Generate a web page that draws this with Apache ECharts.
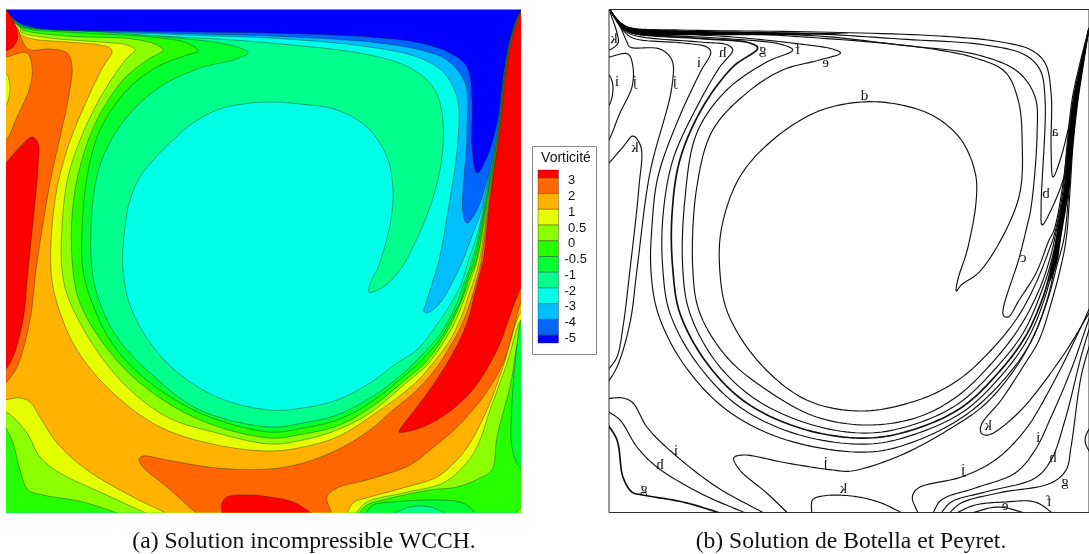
<!DOCTYPE html>
<html><head><meta charset="utf-8">
<script src="https://cdn.jsdelivr.net/npm/echarts@6/dist/echarts.min.js"></script>
<style>html,body{margin:0;padding:0;background:#fff}#c{width:1089px;height:554px}</style>
</head><body><div id="c"></div>
<script>
// ---- legend ----
const legendTicks = ['3','2','1','0.5','0','-0.5','-1','-2','-3','-4','-5'];
const legendColors = ['#ff0000','#ff6600','#ffb300','#e6ff00','#8cff00','#26ff00','#00ff33','#00ff8c','#00ffe6','#00bfff','#0066ff','#0000ff'];
const legendEdges = [-1,0,2,4,6,8,10,12,14,16,18,20,21];
const captions = ['(a) Solution incompressible WCCH.','(b) Solution de Botella et Peyret.'];

// ---- panel (a): iso-vorticity contours ----
const fullBox = [[526,9],[526,518],[1,518],[1,5]];
const baseBox = [[1,5],[526,5],[526,518],[1,518]];
const sM5 = [[6,10],[12,17],[20,23],[33,27],[50,29.5],[133,31],[200,32],[270,33],[370,37],[420,43],[450,53],[467,67],[472,100],[472,147],[477,173],[487,157],[497,123],[503,77],[509,43],[516,20],[522,8]];
const sM4 = [[6,10],[12,17.5],[20,24],[33,28],[50,30],[133,32],[200,34],[270,36],[370,42],[420,50],[447,60],[465,83],[467,133],[463,213],[467,223],[477,210],[487,180],[497,137],[503.3,77],[509.2,43],[516.2,20],[522,8]];
const sM3 = [[6,10],[12,18],[20,24.5],[33,28.5],[50,30.5],[133,33],[200,35.5],[270,38],[370,47],[420,58],[443,72],[457,97],[458,140],[447,217],[439,260],[427,300],[424,311],[427,313],[440,303],[452,283],[463,260],[472,236],[480,215],[484,200],[498.3,125],[503.6,77],[509.4,43],[516.4,20],[522,8]];
const sM2 = [[6,10],[12,18.5],[20,25],[30,28],[50,31],[133,35],[200,38],[270,43],[370,55],[410,68],[433,87],[442,113],[442,157],[430,207],[410,253],[400,270],[383,287],[369,292],[373,277],[377,270],[390,225],[393,190],[387,157],[367,127],[337,110],[300,104],[270,102],[243,104],[217,110],[193,123],[173,140],[155,158],[140,177],[130,200],[125,227],[123,270],[133,313],[167,363],[217,397],[270,410],[303,408],[337,400],[370,383],[397,363],[417,350],[433,330],[447,310],[460,287],[468,262],[478,232],[485,200],[498.6,125],[503.9,77],[509.6,43],[516.6,20],[522,8]];
const sM1 = [[6,10],[12,19],[20,26],[28,28],[50,30],[100,32],[167,37],[220,43],[240,48],[248,53],[233,60],[200,68],[160,87],[127,117],[103,157],[93,200],[92,270],[100,303],[117,337],[150,373],[200,410],[270,427],[303,423],[337,415],[370,398],[393,382],[410,367],[433,343],[443,330],[457,303],[465,280],[472,262],[486,200],[499,125],[504.2,77],[509.8,43],[516.8,20],[522,8]];
const sM05 = [[6,10],[12,19.5],[20,26.5],[27,29],[83,33],[150,37],[187,43],[198,51],[187,55],[157,67],[127,90],[100,130],[87,177],[82,233],[83,270],[90,297],[110,340],[143,377],[200,413],[270,432],[303,428],[337,420],[370,403],[410,371],[420,362],[438,342],[450,322],[462,297],[468,277],[474,262],[486.7,200],[499.3,125],[504.4,77],[510,43],[517,20],[522,8]];
const s0Top = [[6,10],[12,20],[20,27],[23,30],[67,36],[133,39],[157,45],[163,50],[147,60],[123,80],[97,120],[80,167],[72,217],[73,270],[80,303],[103,343],[140,383],[200,420],[270,438],[303,434],[337,426],[370,408],[410,376],[423,365],[440,343],[453,320],[463,297],[470,277],[476,262],[487.3,200],[499.5,125],[504.6,77],[510.2,43],[517.2,20],[522,8]];
const s0Right = [[526,331],[521,333],[510,387],[497,437],[492,470],[480,478],[457,487],[430,490],[383,500],[367,505],[358,514]];
const s0Left = [[120,514],[83,502],[43,495],[28,490],[20,470],[13,443],[6,428],[1,420]];
const s05Top = [[6,10],[12,20.5],[20,28],[21,32],[50,38],[100,42],[127,45],[135,50],[127,58],[103,93],[83,133],[68,177],[62,227],[62,270],[68,297],[90,340],[123,383],[167,417],[217,433],[270,444],[303,440],[337,430],[370,413],[407,382],[427,365],[443,343],[455,322],[465,297],[472,277],[477,262],[488,200],[499.7,125],[504.8,77],[510.4,43],[517.4,20],[522,8]];
const s05Right = [[526,318],[521,320],[507,363],[490,410],[477,447],[463,467],[443,483],[403,493],[367,502],[355,514]];
const s05Left = [[148,514],[100,492],[60,473],[40,457],[27,433],[13,417],[6,412],[1,410]];
const s1Top = [[6,10],[12,21],[18,29],[20,34],[33,39],[67,42],[100,45],[110,48],[112,52],[103,67],[87,100],[68,147],[55,200],[51,270],[57,303],[77,350],[113,393],[160,427],[217,445],[270,451],[303,447],[337,437],[370,417],[413,385],[433,363],[450,340],[462,315],[468,297],[475,277],[479,262],[488.7,200],[500,125],[505,77],[510.6,43],[517.6,20],[522,8]];
const s1Right = [[526,310],[521,312],[503,367],[487,410],[470,443],[457,460],[437,477],[403,488],[370,497],[353,503],[347,514]];
const s1Left = [[168,514],[133,497],[87,470],[57,443],[40,417],[30,402],[20,398],[6,400],[1,402]];
const yellowPocket = [[1,72],[6,73],[10,87],[6,105],[1,106]];
const s2Upper = [[1,5],[6,10],[12,21],[18,30],[28,49],[50,49],[67,53],[72,67],[68,100],[50,183],[36,270],[30,320],[17,367],[6,383],[1,389]];
const s2UpperHole = [[1,140],[6,140],[17,117],[30,87],[32,67],[27,53],[6,57],[1,57]];
const s2Lower = [[522,8],[517.8,20],[510.8,43],[505.2,77],[500.3,125],[489.3,200],[481,262],[478,275],[472,297],[463,322],[452,343],[437,367],[417,390],[393,410],[370,430],[337,450],[303,463],[270,469],[217,468],[167,460],[143,456],[139,459],[143,467],[167,487],[197,514]];
const s2LowerEnd = [[332,514],[327,497],[337,488],[370,479],[410,465],[430,450],[457,427],[483,397],[503,363],[521,302],[526,292]];
const redWall = [[522,8],[518,20],[511,43],[505.5,77],[500.6,125],[490,200],[483,262],[480,273],[475,293],[467,323],[453,353],[433,385],[417,407],[403,425],[399,432],[410,431],[437,420],[470,393],[497,350],[513,307],[521,287],[526,277]];
const redTop = [[1,5],[6,10],[10,15],[17,30],[17,40],[13,47],[6,51],[1,52]];
const redLeft = [[1,168],[6,163],[20,147],[32,137],[38,143],[38,167],[28,270],[23,320],[13,357],[6,369],[1,375]];
const redBottom = [[222,514],[222,503],[227,497],[250,495],[270,497],[293,502],[313,514]];
const pocketGreen = [[365,514],[373,505],[393,502],[437,500],[463,503],[477,514]];
const pocketSpring = [[392,514],[410,507],[430,507],[448,514]];
const wallGreen = [[526,467],[520,467],[512,447],[512,403],[518,337],[521,320],[526,312]];
const cornerLime = [[515,514],[521,507],[526,503]];

const leftRegions = [
  {c:'#0000ff', runs:[baseBox]},
  {c:'#0066ff', runs:[sM5, fullBox]},
  {c:'#00bfff', runs:[sM4, fullBox]},
  {c:'#00ffe6', runs:[sM3, fullBox]},
  {c:'#00ff8c', runs:[sM2, fullBox]},
  {c:'#00ff33', runs:[sM1, fullBox]},
  {c:'#26ff00', runs:[sM05, fullBox]},
  {c:'#8cff00', runs:[s0Top, s0Right, s0Left, [[1,5]]]},
  {c:'#e6ff00', runs:[s05Top, s05Right, s05Left, [[1,5]]]},
  {c:'#ffb300', runs:[s1Top, s1Right, s1Left, [[1,5]]]},
  {c:'#e6ff00', runs:[yellowPocket]},
  {c:'#ff6600', runs:[s2Upper, s2UpperHole]},
  {c:'#ff6600', runs:[s2Lower, s2LowerEnd]},
  {c:'#ff0000', runs:[redWall]},
  {c:'#ff0000', runs:[redTop]},
  {c:'#ff0000', runs:[redLeft]},
  {c:'#ff0000', runs:[redBottom]},
  {c:'#00ff33', runs:[pocketGreen]},
  {c:'#00ff8c', runs:[pocketSpring]},
  {c:'#00ff33', runs:[wallGreen]},
  {c:'#8cff00', runs:[cornerLime, [[526,518]]]}
];
const straightRuns = [fullBox, baseBox];

// ---- panel (b): hand-drawn contour lines ----
const lineA = [[610,10],[615,17],[622,24],[632,28],[680,30],[819,32],[940,36],[1002,42],[1032,50],[1046,63],[1052,93],[1052,150],[1054,177],[1062,157],[1069,130],[1076,100],[1090,28]];
const lineD = [[610,10],[615,17],[622,24],[632,28.5],[680,31],[819,34],[900,39],[986,45],[1026,55],[1041,70],[1046,100],[1042,207],[1043,225],[1052,210],[1066,173],[1074,117],[1090,28]];
const lineC3 = [[610,10],[615,17],[622,24],[632,29],[680,32],[819,36],[900,45],[979,55],[1019,72],[1036,97],[1038,133],[1032,207],[1027,230],[1020,258],[1004,315],[1009,317],[1020,300],[1037,273],[1050,240],[1055,230],[1063,190],[1068,150],[1073,110],[1090,28]];
const lineB = [[610,10],[615,18],[622,25],[632,29.5],[680,33],[750,34],[819,38],[919,47],[976,58],[1006,72],[1019,100],[1023,140],[1019,200],[982,270],[962,285],[957,291],[959,278],[968,250],[977,200],[976,173],[962,140],[936,117],[902,105],[862,102],[817,112],[773,140],[740,177],[722,227],[720,270],[728,313],[760,363],[807,400],[862,411],[919,400],[959,380],[992,350],[1018,318],[1036,285],[1050,250],[1056,232],[1064,190],[1068,145],[1073,100],[1080,67],[1090,28]];
const lineE = [[610,10],[615,18],[622,26],[632,31],[680,34],[733,37],[800,44],[833,49],[841,53],[820,60],[783,70],[747,93],[713,130],[697,187],[693,270],[700,313],[727,357],[767,390],[817,417],[870,425],[919,417],[957,397],[990,366],[1020,328],[1040,290],[1051,258],[1057,232],[1065,190],[1069,145],[1074,100],[1081,67],[1090,28]];
const lineF = [[610,10],[615,18],[622,26],[633,32],[717,38],[780,44],[793,50],[767,62],[727,90],[697,133],[685,200],[683,270],[690,313],[717,363],[757,400],[813,425],[870,433],[919,423],[960,403],[995,370],[1024,333],[1043,290],[1052,262],[1058,235],[1066,190],[1070,145],[1075,100],[1081.5,67],[1090,28]];
const lineG = [[610,10],[615,18],[622,27],[633,33],[700,38.5],[750,43],[758,48],[733,67],[703,107],[680,160],[672,217],[673,270],[680,313],[707,363],[747,403],[807,430],[870,438],[919,428],[963,407],[998,374],[1026,337],[1045,294],[1053,263],[1059,235],[1067,190],[1071,145],[1076,100],[1082,67],[1090,28]];
const lineH = [[610,10],[615,18],[622,28],[633,35],[700,42],[728,45],[733,50],[720,67],[697,107],[673,160],[663,217],[663,270],[670,313],[697,363],[740,407],[800,435],[870,444],[919,433],[965,411],[1000,378],[1028,340],[1046,297],[1054,265],[1060,235],[1068,190],[1072,145],[1077,100],[1082.5,67],[1090,28]];
const lineI = [[610,10],[615,18],[622,29],[633,38],[683,43],[707,47],[711,52],[700,73],[677,123],[658,177],[652,227],[651,270],[658,313],[683,363],[727,410],[787,440],[870,452],[919,440],[965,416],[1000,385],[1030,345],[1048,300],[1056,265],[1062,235],[1069,190],[1073,145],[1078,100],[1083,67],[1090,28]];
const lineJ = [[610,10],[618,22],[627,42],[630,47],[660,49],[672,60],[672,87],[650,173],[637,270],[630,323],[617,367],[604,388]];
const lineJ2 = [[789,514],[767,493],[740,470],[734,458],[743,455],[787,463],[833,470],[852,471],[902,455],[952,428],[985,405],[1015,370],[1036,333],[1050,295],[1058,265],[1065,238],[1070,190],[1073.5,145],[1078.5,100],[1083.5,67],[1090,28]];
const lineJLeft = [[604,57],[609,57],[628,54],[633,67],[632,87],[620,113],[609,140],[604,148]];
const lineKTop = [[604,50],[609,50],[618,43],[617,33],[610,12]];
const lineILeft = [[604,74],[609,75],[613,87],[609,105],[604,106]];
const lineKLens = [[604,168],[609,163],[623,147],[633,136],[641,147],[639,187],[630,270],[623,327],[617,357],[608,370],[604,375]];
const lineIBL = [[604,399],[623,398],[633,403],[647,427],[673,453],[717,487],[766,514]];
const lineHBL = [[604,409],[620,420],[637,447],[657,467],[700,493],[748,514]];
const lineGBL = [[606,422],[617,440],[623,477],[632,492],[643,495],[683,502],[724,514]];
const lineKB = [[812,514],[813,500],[823,496],[852,496],[879,502],[905,514]];
const lineKR = [[1092,310],[1063,357],[1019,413],[989,435],[982,433],[982,425],[1002,400],[1025,365],[1040,340],[1053,300],[1061,270],[1067,240],[1071,190],[1074,145],[1079,100],[1084,67],[1090,28]];
const lineJR = [[919,514],[913,497],[919,488],[962,477],[996,460],[1026,430],[1052,387],[1082,327],[1092,305]];
const lineIR = [[933,514],[942,500],[976,488],[1016,473],[1036,450],[1052,417],[1072,370],[1092,313]];
const lineHR = [[941,514],[952,502],[986,492],[1036,478],[1052,460],[1066,420],[1082,357],[1092,323]];
const lineGR = [[949,514],[962,503],[999,493],[1052,483],[1067,470],[1072,447],[1082,377],[1092,340]];
const lineFR = [[955,514],[976,505],[1006,502],[1036,502],[1055,514]];
const lineER = [[969,514],[999,507],[1029,514]];
const lineWall = [[1092,425],[1086,440],[1092,455]];
const rightLines = [lineA,lineD,lineC3,lineB,lineE,lineF,lineG,lineH,lineI,lineJ,lineJ2,lineJLeft,lineKTop,lineILeft,lineKLens,lineIBL,lineHBL,lineGBL,lineKB,lineKR,lineJR,lineIR,lineHR,lineGR,lineFR,lineER,lineWall];
const heavyLines = [lineG, lineGBL];
// ink-filled parts where the printed lines merge
const inkTop = [[610,10],[620,22],[633,28],[700,31],[790,32.5],[850,33.5],[790,35],[700,35],[633,34],[622,27],[615,18],[610,10]];
const inkWall = [[1090,28],[1084,67],[1079,100],[1074,145],[1070,190],[1063,230],[1058,263],[1050,283],[1053,263],[1058,230],[1065,190],[1069,145],[1074,100],[1081,67],[1090,28]];
const inkFills = [inkTop, inkWall];

const labelText = ['k','i','j','j','i','h','g','f','e','d','k','a','b','c','i','h','g','j','k','j','k','i','h','g','f','e'];
const labelX = [614,617,635,675,699,723,763,798,826,865,635,1056,1047,1024,676,660,644,826,844,964,989,1039,1054,1066,1050,1006];
const labelY = [39,82,82,82,63,53,50,50,63,96,148,132,194,258,451,465,489,463,489,470,426,438,458,482,502,506];

// centripetal Catmull-Rom through the read points (pixel space)
function spline(p){
  const out=[],dist=(u,v)=>Math.max(1e-3,Math.sqrt(Math.hypot(u[0]-v[0],u[1]-v[1])));
  for(let i=0;i<p.length-1;i++){
    const a=p[Math.max(i-1,0)],b=p[i],c=p[i+1],d=p[Math.min(i+2,p.length-1)];
    const d1=i>0?dist(a,b):0,d2=dist(b,c),d3=i+2<p.length?dist(c,d):0;
    const m=[0,1].map(j=>d1?d2*((b[j]-a[j])/d1-(c[j]-a[j])/(d1+d2)+(c[j]-b[j])/d2):(c[j]-b[j]));
    const n=[0,1].map(j=>d3?d2*((c[j]-b[j])/d2-(d[j]-b[j])/(d2+d3)+(d[j]-c[j])/d3):(c[j]-b[j]));
    for(let k=0;k<12;k++){
      const t=k/12,t2=t*t,t3=t2*t;
      out.push([0,1].map(j=>(2*t3-3*t2+1)*b[j]+(t3-2*t2+t)*m[j]+(-2*t3+3*t2)*c[j]+(t3-t2)*n[j]));
    }
  }
  out.push(p[p.length-1]);
  return out;
}
const toPx=(api,run)=>spline(run.map(q=>api.coord(q)));
function regionItem(params,api){
  const r=leftRegions[params.dataIndex];
  let pts=[]; r.runs.forEach(run=>{pts=pts.concat(straightRuns.includes(run)?run.map(q=>api.coord(q)):toPx(api,run));});
  return {type:'polygon',shape:{points:pts},style:{fill:r.c,stroke:'rgba(20,30,20,0.65)',lineWidth:0.6}};
}
function lineItem(params,api){
  const run=rightLines[params.dataIndex];
  return {type:'polyline',shape:{points:toPx(api,run)},style:{fill:null,stroke:'#111',lineWidth:heavyLines.includes(run)?1.7:1.15}};
}
function inkItem(params,api){
  return {type:'polygon',shape:{points:toPx(api,inkFills[params.dataIndex])},style:{fill:'#000'}};
}
function labelItem(params,api){
  const i=params.dataIndex,q=api.coord([labelX[i],labelY[i]]);
  return {type:'text',x:q[0],y:q[1],scaleX:-1,style:{text:labelText[i],font:'15px "Liberation Serif"',fill:'#111',align:'center',verticalAlign:'middle'}};
}
function legendItem(params,api){
  const i=params.dataIndex,a=api.coord([0,legendEdges[i]]),b=api.coord([1,legendEdges[i+1]]);
  return {type:'rect',shape:{x:a[0],y:a[1],width:b[0]-a[0],height:b[1]-a[1]},style:{fill:legendColors[i],stroke:'rgba(30,30,30,0.6)',lineWidth:0.6}};
}
const hidden=(gridIndex,min,max,inverse)=>({type:'value',gridIndex,min,max,inverse:!!inverse,show:false,splitLine:{show:false}});
const idx=a=>a.map((_,i)=>[i,0]);
const chart=echarts.init(document.getElementById('c'),null,{renderer:'canvas'});
chart.setOption({
  animation:false,
  backgroundColor:'#fff',
  title:[
    {text:captions[0],left:304,top:530,padding:0,textAlign:'center',textStyle:{fontFamily:'Liberation Serif',fontSize:23.6,fontWeight:'normal',color:'#111'}},
    {text:captions[1],left:851,top:530,padding:0,textAlign:'center',textStyle:{fontFamily:'Liberation Serif',fontSize:23.6,fontWeight:'normal',color:'#111'}},
    {text:'Vorticité',left:566,top:151,padding:0,textAlign:'center',textStyle:{fontFamily:'Liberation Sans',fontSize:14,fontWeight:'normal',color:'#111'}}
  ],
  graphic:[{type:'rect',z:-1,shape:{x:532.5,y:146.5,width:64,height:208},style:{fill:'#fff',stroke:'#888',lineWidth:1}}],
  grid:[
    {left:6,top:9.5,width:515,height:503,containLabel:false},
    {left:609,top:9.5,width:481,height:503,show:true,borderColor:'#333',borderWidth:1,backgroundColor:'transparent'},
    {left:538,top:170,width:20.5,height:173},
    {left:538,top:173,width:20.5,height:173}
  ],
  xAxis:[hidden(0,6,521),hidden(1,609,1090),hidden(2,0,1),hidden(3,0,1)],
  yAxis:[hidden(0,9.5,512.5,true),hidden(1,9.5,512.5,true),hidden(2,-1,21,true),
    {type:'value',gridIndex:3,min:-1,max:21,interval:1,inverse:true,position:'right',
     axisLine:{show:false},axisTick:{show:false},splitLine:{show:false},
     axisLabel:{show:true,margin:6,showMinLabel:false,showMaxLabel:false,hideOverlap:false,color:'#111',fontFamily:'Liberation Sans',fontSize:13,align:'left',
       formatter:v=>{ if(!(v>=0&&v%2===0)) return ''; const t=legendTicks[v/2]; return t[0]==='-'?t:'\u00a0'+t; }}}],
  series:[
    {type:'custom',xAxisIndex:0,yAxisIndex:0,coordinateSystem:'cartesian2d',clip:true,silent:true,renderItem:regionItem,data:idx(leftRegions)},
    {type:'custom',xAxisIndex:1,yAxisIndex:1,coordinateSystem:'cartesian2d',clip:true,silent:true,renderItem:lineItem,data:idx(rightLines)},
    {type:'custom',xAxisIndex:1,yAxisIndex:1,coordinateSystem:'cartesian2d',clip:true,silent:true,renderItem:inkItem,data:idx(inkFills)},
    {type:'custom',xAxisIndex:1,yAxisIndex:1,coordinateSystem:'cartesian2d',clip:false,silent:true,renderItem:labelItem,data:idx(labelText)},
    {type:'custom',xAxisIndex:2,yAxisIndex:2,coordinateSystem:'cartesian2d',silent:true,renderItem:legendItem,data:idx(legendColors)}
  ]
});
</script></body></html>
